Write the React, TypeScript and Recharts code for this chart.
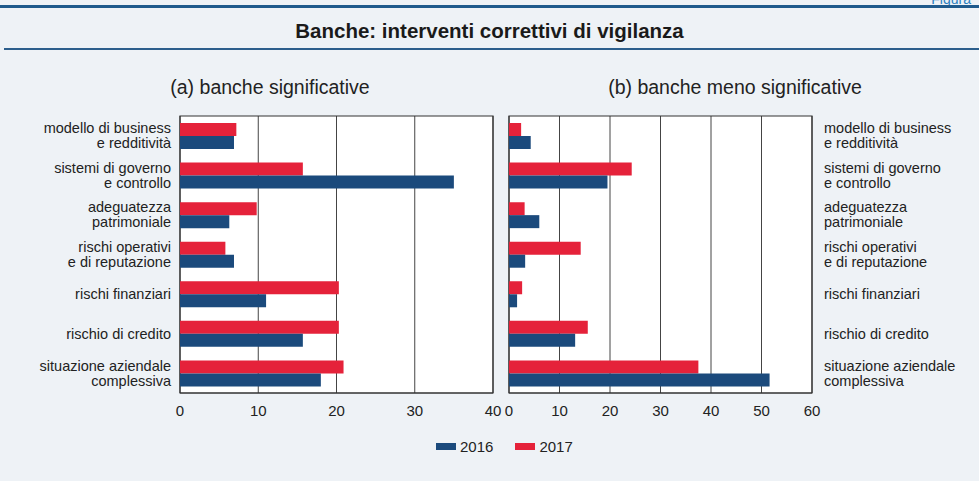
import { BarChart, Bar, XAxis, YAxis, CartesianGrid, ReferenceArea } from "recharts"

const categories = [
  ["modello di business", "e redditività"],
  ["sistemi di governo", "e controllo"],
  ["adeguatezza", "patrimoniale"],
  ["rischi operativi", "e di reputazione"],
  ["rischi finanziari"],
  ["rischio di credito"],
  ["situazione aziendale", "complessiva"],
]

const sig2016 = [6.9, 35.0, 6.3, 6.9, 11.0, 15.7, 18.0]
const sig2017 = [7.2, 15.7, 9.8, 5.8, 20.3, 20.3, 20.9]
const less2016 = [4.3, 19.5, 6.0, 3.2, 1.6, 13.1, 51.6]
const less2017 = [2.4, 24.3, 3.1, 14.2, 2.6, 15.6, 37.5]

const ticksA = [0, 10, 20, 30, 40]
const ticksB = [0, 10, 20, 30, 40, 50, 60]

const BLUE = "#1b4a7c"
const RED = "#e5223a"
const FONT = "'Liberation Sans', Arial, sans-serif"

const build = (a: number[], b: number[]) =>
  categories.map((c, i) => ({ name: c.join("|"), y2016: a[i], y2017: b[i] }))

const dataA = build(sig2016, sig2017)
const dataB = build(less2016, less2017)

function CatTick({ x, y, payload, side }: any) {
  const lines = String(payload.value).split("|")
  const lh = 15
  const start = -((lines.length - 1) * lh) / 2
  const anchor = side === "left" ? "end" : "start"
  const tx = side === "left" ? x - 1 : x + 4
  return (
    <text x={tx} y={y} textAnchor={anchor} fontSize={14.5} fill="#222" fontFamily={FONT}>
      {lines.map((l, i) => (
        <tspan key={i} x={tx} dy={i === 0 ? start + 5 : lh}>
          {l}
        </tspan>
      ))}
    </text>
  )
}

function Panel({ data, ticks, max, side }: { data: any[]; ticks: number[]; max: number; side: "left" | "right" }) {
  const isLeft = side === "left"
  return (
    <BarChart
      width={isLeft ? 508 : 479}
      height={323}
      layout="vertical"
      data={data}
      barGap={0}
      barSize={13}
      margin={isLeft ? { top: 16, right: 15, bottom: 0, left: 0 } : { top: 16, right: 0, bottom: 0, left: 9 }}
      style={{ overflow: "visible" }}
    >
      <CartesianGrid horizontal={false} vertical={true} stroke="#444" strokeWidth={1} fill="#fff" />
      <ReferenceArea x1={0} x2={max} fill="none" stroke="#333" strokeWidth={1.2} />
      <XAxis
        type="number"
        domain={[0, max]}
        ticks={ticks}
        interval={0}
        tickLine={false}
        axisLine={{ stroke: "#333" }}
        tick={{ fontSize: 15, fill: "#222", fontFamily: FONT }}
        tickMargin={6}
        height={30}
      />
      <YAxis
        type="category"
        dataKey="name"
        orientation={side}
        width={isLeft ? 180 : 167}
        tickLine={false}
        axisLine={false}
        interval={0}
        tick={<CatTick side={side} />}
      />
      <Bar dataKey="y2017" fill={RED} isAnimationActive={false} />
      <Bar dataKey="y2016" fill={BLUE} isAnimationActive={false} />
    </BarChart>
  )
}

export default function App() {
  return (
    <div
      style={{
        position: "absolute",
        left: 0,
        top: 0,
        width: 979,
        height: 481,
        background: "#eef2f6",
        overflow: "hidden",
        fontFamily: FONT,
      }}
    >
      <div style={{ position: "absolute", right: 8, top: -9, color: "#2a7fc0", fontSize: 14 }}>Figura</div>
      <div style={{ position: "absolute", left: 0, top: 5, width: 979, height: 3, background: "#1f5a8c" }} />
      <div
        style={{
          position: "absolute",
          left: 0,
          top: 19,
          width: 979,
          textAlign: "center",
          fontSize: 20.5,
          fontWeight: "bold",
          color: "#1a1a1a",
        }}
      >
        Banche: interventi correttivi di vigilanza
      </div>
      <div style={{ position: "absolute", left: 4, top: 48, width: 975, height: 2, background: "#2c5e8c" }} />
      <div style={{ position: "absolute", left: 150, top: 76, width: 240, textAlign: "center", fontSize: 19.5, color: "#222" }}>
        (a) banche significative
      </div>
      <div style={{ position: "absolute", left: 585, top: 76, width: 300, textAlign: "center", fontSize: 19.5, color: "#222" }}>
        (b) banche meno significative
      </div>
      <div style={{ position: "absolute", left: 0, top: 100 }}>
        <Panel data={dataA} ticks={ticksA} max={40} side="left" />
      </div>
      <div style={{ position: "absolute", left: 500, top: 100 }}>
        <Panel data={dataB} ticks={ticksB} max={60} side="right" />
      </div>
      <div style={{ position: "absolute", left: 436, top: 438, display: "flex", alignItems: "center", fontSize: 15, color: "#222" }}>
        <span style={{ display: "inline-block", width: 20, height: 7, background: BLUE, marginRight: 4 }} />
        <span>2016</span>
        <span style={{ display: "inline-block", width: 20, height: 7, background: RED, marginLeft: 22, marginRight: 4 }} />
        <span>2017</span>
      </div>
    </div>
  )
}
